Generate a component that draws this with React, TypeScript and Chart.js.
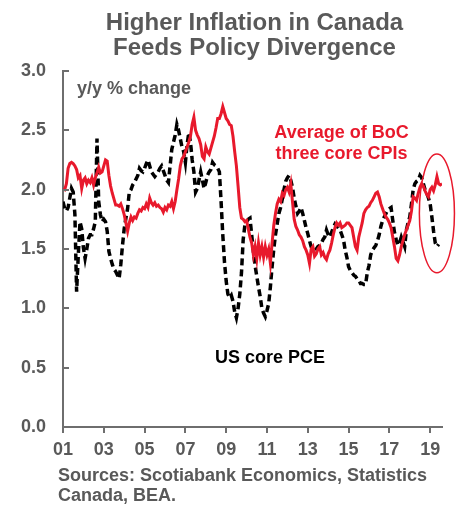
import { useEffect, useRef } from "react";
import { Chart, registerables } from "chart.js";

Chart.register(...registerables);

// ---- Data (monthly, starting January 2001) ----
const START_YEAR = 2001;
const X_END = 2019.58;
const tickYears = [2001, 2003, 2005, 2007, 2009, 2011, 2013, 2015, 2017, 2019];
const tickLabels = ["01", "03", "05", "07", "09", "11", "13", "15", "17", "19"];
const yTickValues = [0.5, 1.0, 1.5, 2.0, 2.5, 3.0];

// Average of BoC three core CPIs, y/y %
const bocCore = [
  2.01, 2.0, 2.05, 2.18, 2.22, 2.23, 2.22, 2.2, 2.17, 2.1, 2.12, 2.01,
  2.08, 2.1, 2.05, 2.08, 2.06, 2.1, 2.04, 2.1, 2.14, 2.19, 2.14, 2.15,
  2.2, 2.25, 2.24, 2.12, 2.03, 1.97, 1.92, 1.87, 1.87, 1.86, 1.88, 1.84,
  1.79, 1.72, 1.65, 1.72, 1.77, 1.74, 1.77, 1.76, 1.8, 1.83, 1.82, 1.85,
  1.84, 1.88, 1.85, 1.93, 1.89, 1.87, 1.89, 1.86, 1.87, 1.85, 1.84, 1.81,
  1.85, 1.83, 1.87, 1.86, 1.9, 1.84, 1.9, 2.0, 2.09, 2.2, 2.26, 2.28,
  2.32, 2.36, 2.4, 2.45, 2.55, 2.61, 2.5, 2.46, 2.43, 2.38, 2.28, 2.26,
  2.36, 2.32, 2.3, 2.35, 2.4, 2.45, 2.52, 2.6, 2.6, 2.64, 2.7, 2.65,
  2.6, 2.58, 2.55, 2.54, 2.45, 2.32, 2.2, 2.03, 1.85, 1.76, 1.75, 1.73,
  1.74, 1.67, 1.6, 1.55, 1.45, 1.52, 1.42, 1.55, 1.45, 1.52, 1.43, 1.52,
  1.45, 1.5, 1.38, 1.55, 1.7, 1.8, 1.88, 1.92, 1.9, 1.97, 1.95, 2.0,
  2.02, 1.98, 2.05, 1.9, 1.75, 1.69, 1.66, 1.62, 1.6, 1.57, 1.52, 1.49,
  1.45, 1.38, 1.5, 1.52, 1.44, 1.46, 1.5, 1.52, 1.45, 1.47, 1.43, 1.41,
  1.46, 1.49, 1.55, 1.62, 1.68, 1.72, 1.7, 1.72, 1.68, 1.69, 1.7, 1.72,
  1.72, 1.7, 1.68, 1.6, 1.52, 1.49, 1.6, 1.66, 1.72, 1.8, 1.83, 1.85,
  1.86, 1.89, 1.91, 1.94, 1.97, 1.98, 1.94, 1.88, 1.84, 1.8, 1.77, 1.75,
  1.72, 1.68, 1.6, 1.52, 1.42, 1.4, 1.45, 1.52, 1.57, 1.62, 1.66, 1.7,
  1.74, 1.82, 1.94, 1.93, 1.91, 1.97, 2.02, 2.05, 2.03, 1.99, 1.96, 1.94,
  2.0, 2.02, 1.99, 2.04, 2.11, 2.05, 2.04, 2.05,
];

// US core PCE, y/y %
const usCorePce = [
  1.9, 1.84, 1.82, 1.85, 1.93, 2.01, 1.98, 1.79, 1.14, 1.45, 1.73, 1.67,
  1.51, 1.42, 1.5, 1.59, 1.62, 1.62, 1.67, 1.73, 2.43, 1.9, 1.79, 1.73,
  1.75, 1.73, 1.65, 1.48, 1.42, 1.37, 1.33, 1.31, 1.28, 1.25, 1.37, 1.53,
  1.67, 1.76, 1.84, 1.98, 2.0, 2.04, 2.06, 2.09, 2.12, 2.18, 2.16, 2.15,
  2.18, 2.22, 2.25, 2.2, 2.15, 2.13, 2.11, 2.13, 2.15, 2.18, 2.2, 2.16,
  2.12, 2.08, 2.06, 2.2, 2.34, 2.4, 2.46, 2.55, 2.5, 2.43, 2.36, 2.32,
  2.23, 2.38, 2.48, 2.4, 2.25, 2.15, 1.98, 2.01, 2.08, 2.15, 2.08, 2.01,
  2.06, 2.12, 2.15, 2.17, 2.23, 2.21, 2.2, 2.18, 2.15, 1.9, 1.62, 1.39,
  1.23, 1.12, 1.09, 1.11, 1.06, 0.97, 0.92, 1.0, 1.12, 1.3, 1.58, 1.7,
  1.73, 1.75, 1.76, 1.62, 1.48, 1.36, 1.27, 1.18, 1.1, 1.0, 0.96, 0.93,
  0.98, 1.04, 1.18, 1.35, 1.5, 1.62, 1.71, 1.8, 1.85, 1.92, 2.0, 2.07,
  2.1, 2.12, 2.08, 2.02, 1.93, 1.86, 1.8, 1.82, 1.85, 1.8, 1.74, 1.68,
  1.63, 1.57, 1.52, 1.5, 1.49, 1.5, 1.52, 1.53, 1.55, 1.58, 1.6, 1.66,
  1.62, 1.6, 1.64, 1.68, 1.71, 1.69, 1.68, 1.66, 1.62, 1.58, 1.49, 1.43,
  1.35, 1.32, 1.3, 1.28, 1.27, 1.25, 1.24, 1.21, 1.21, 1.2, 1.2, 1.3,
  1.36, 1.45, 1.49, 1.51, 1.53, 1.57, 1.62, 1.69, 1.74, 1.77, 1.8, 1.83,
  1.84, 1.85, 1.74, 1.64, 1.58, 1.53, 1.55, 1.6, 1.56, 1.52, 1.66, 1.72,
  1.77, 1.88, 2.0, 2.05, 2.07, 2.08, 2.12, 2.1, 2.05, 2.0, 1.97, 1.93,
  1.88, 1.77, 1.65, 1.55, 1.52, 1.54,
];

// Annotation ellipse (data units)
const ellipseCenter = { x: 2019.33, y: 1.8 };
const ellipseRadius = { x: 0.86, y: 0.5 };

const titleLines = ["Higher Inflation in Canada", "Feeds Policy Divergence"];
const unitLabel = "y/y % change";
const bocLabel = ["Average of BoC", "three core CPIs"];
const pceLabel = "US core PCE";
const sourceLines = ["Sources: Scotiabank Economics, Statistics", "Canada, BEA."];

const FONT = '"Liberation Sans", Arial, sans-serif';
const GREY = "#595959";
const AXIS = "#6e6e6e";
const RED = "#E8192C";

const toPoints = (arr: number[]) =>
  arr.map((v, i) => ({ x: START_YEAR + i / 12, y: v }));

const decorPlugin = {
  id: "decor",
  afterDraw(chart: any) {
    const { ctx, chartArea, scales } = chart;
    const xs = scales.x;
    const ys = scales.y;
    ctx.save();
    // inner y ticks
    ctx.strokeStyle = AXIS;
    ctx.lineWidth = 2;
    yTickValues.forEach((v) => {
      const py = Math.round(ys.getPixelForValue(v));
      ctx.beginPath();
      ctx.moveTo(chartArea.left, py);
      ctx.lineTo(chartArea.left + 6, py);
      ctx.stroke();
    });
    // title
    ctx.fillStyle = GREY;
    ctx.textAlign = "center";
    ctx.textBaseline = "alphabetic";
    ctx.font = `bold 24px ${FONT}`;
    const tx = (chartArea.left + chartArea.right) / 2 + 2;
    ctx.fillText(titleLines[0], tx, 22);
    ctx.fillText(titleLines[1], tx, 47);
    // unit label
    ctx.font = `bold 18px ${FONT}`;
    ctx.textAlign = "left";
    ctx.fillText(unitLabel, chartArea.left + 14, chartArea.top + 23);
    // BoC label
    ctx.fillStyle = RED;
    ctx.textAlign = "center";
    ctx.fillText(bocLabel[0], 333.5, 130);
    ctx.fillText(bocLabel[1], 333.5, 151);
    // PCE label
    ctx.fillStyle = "#000000";
    ctx.fillText(pceLabel, 262, 355);
    // sources
    ctx.fillStyle = GREY;
    ctx.textAlign = "left";
    ctx.fillText(sourceLines[0], 50, 473);
    ctx.fillText(sourceLines[1], 50, 493);
    // ellipse
    const cx = xs.getPixelForValue(ellipseCenter.x);
    const cy = ys.getPixelForValue(ellipseCenter.y);
    const rx = Math.abs(xs.getPixelForValue(ellipseCenter.x + ellipseRadius.x) - cx);
    const ry = Math.abs(ys.getPixelForValue(ellipseCenter.y + ellipseRadius.y) - cy);
    ctx.strokeStyle = RED;
    ctx.lineWidth = 1.5;
    ctx.beginPath();
    ctx.ellipse(cx, cy, rx, ry, 0, 0, Math.PI * 2);
    ctx.stroke();
    ctx.restore();
  },
};

export default function App() {
  const ref = useRef<HTMLCanvasElement | null>(null);
  useEffect(() => {
    if (!ref.current) return;
    const chart = new Chart(ref.current, {
      type: "line",
      data: {
        datasets: [
          {
            label: "Average of BoC three core CPIs",
            data: toPoints(bocCore),
            borderColor: RED,
            borderWidth: 3,
            pointRadius: 0,
            tension: 0,
            fill: false,
          },
          {
            label: "US core PCE",
            data: toPoints(usCorePce),
            borderColor: "#000000",
            borderWidth: 3.5,
            borderDash: [7, 4],
            borderCapStyle: "butt",
            pointRadius: 0,
            tension: 0,
            fill: false,
          },
        ],
      },
      options: {
        animation: false,
        responsive: false,
        maintainAspectRatio: false,
        layout: { padding: { top: 63, left: 0, right: 14, bottom: 0 } },
        plugins: {
          legend: { display: false },
          tooltip: { enabled: false },
          title: { display: false },
        },
        scales: {
          x: {
            type: "linear",
            min: START_YEAR,
            max: X_END,
            afterBuildTicks: (axis: any) => {
              axis.ticks = tickYears.map((v) => ({ value: v }));
            },
            afterFit: (axis: any) => {
              axis.height = 79;
            },
            ticks: {
              autoSkip: false,
              maxRotation: 0,
              minRotation: 0,
              padding: 6,
              color: GREY,
              font: { family: FONT, size: 18, weight: "bold" },
              callback: (v: any) => {
                const i = tickYears.indexOf(Number(v));
                return i >= 0 ? tickLabels[i] : "";
              },
            },
            grid: {
              display: true,
              drawOnChartArea: false,
              drawTicks: true,
              tickLength: 6,
              color: AXIS,
              lineWidth: 2,
            },
            border: { display: true, color: AXIS, width: 2 },
          },
          y: {
            min: 0,
            max: 3,
            afterFit: (axis: any) => {
              axis.width = 55;
            },
            ticks: {
              stepSize: 0.5,
              padding: 17,
              color: GREY,
              font: { family: FONT, size: 18, weight: "bold" },
              callback: (v: any) => Number(v).toFixed(1),
            },
            grid: { display: false, drawTicks: false },
            border: { display: true, color: AXIS, width: 2 },
          },
        },
      },
      plugins: [decorPlugin],
    } as any);
    return () => chart.destroy();
  }, []);
  return (
    <div style={{ width: 448, height: 498 }}>
      <canvas ref={ref} width={448} height={498} style={{ display: "block" }} />
    </div>
  );
}
